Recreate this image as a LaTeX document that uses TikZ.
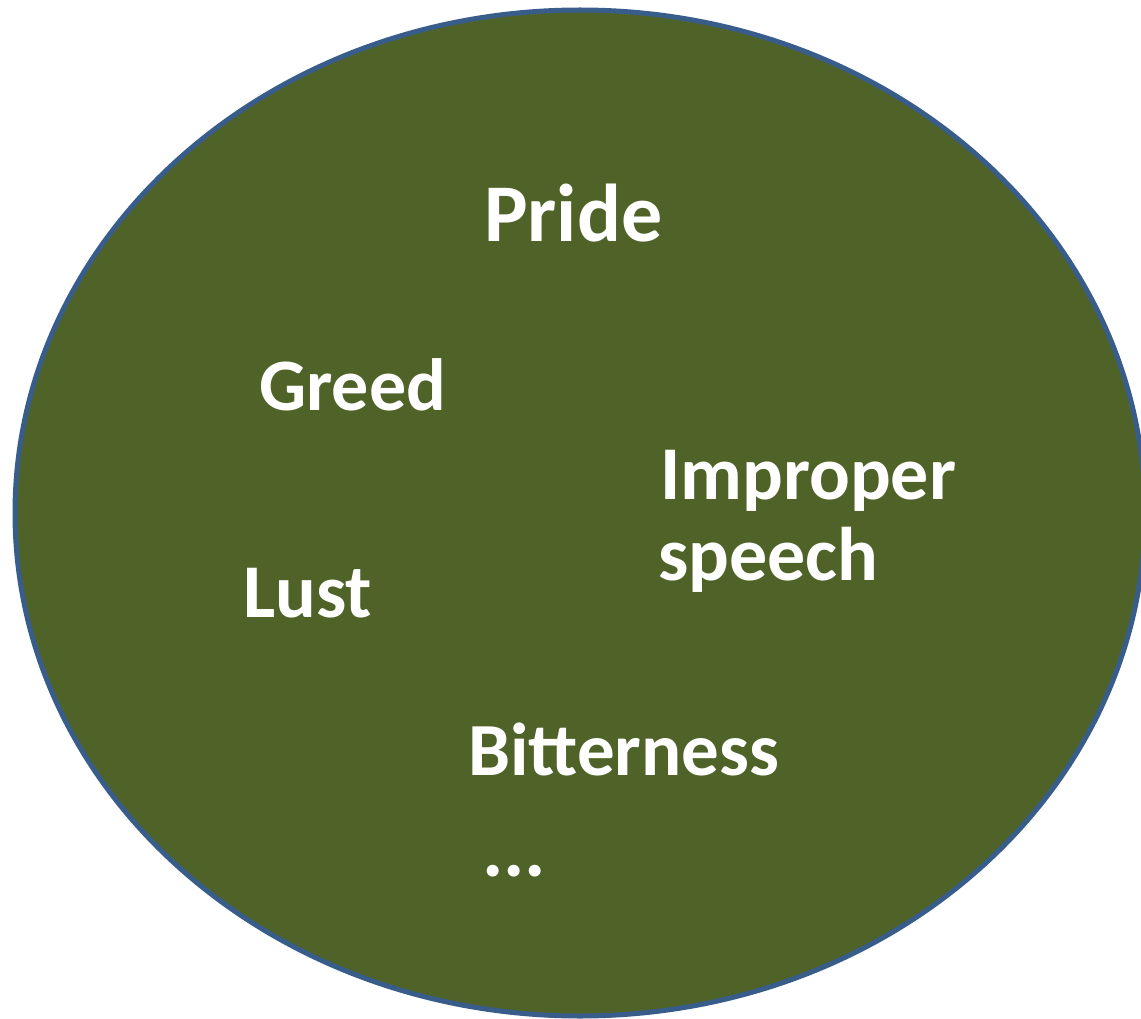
\documentclass[tikz,border=0pt]{standalone}
\usepackage{fontspec}
\setmainfont{Carlito}
\definecolor{olivefill}{HTML}{4F6228}
\definecolor{rimblue}{HTML}{385D8A}
\tikzset{
  word/.style={anchor=base west, inner sep=0pt, text=white, font=\fontsize{76}{91}\selectfont\bfseries},
}
\begin{document}
\begin{tikzpicture}[x=1pt,y=-1pt]
\useasboundingbox (0,0) rectangle (1141,1019);
\clip (0,0) rectangle (1141,1019);
\draw[fill=olivefill, draw=rimblue, line width=5pt] (580,513) ellipse [x radius=565, y radius=503];
\node[word, font=\fontsize{82}{98}\selectfont\bfseries] (pride) at (484,242) {Pride};
\node[word, font=\fontsize{74}{89}\selectfont\bfseries] (greed) at (259,410) {Greed};
\node[word] (improper) at (660,499) {Improper};
\node[word] (speech) at (658,580) {speech};
\node[word] (lust) at (243,617) {Lust};
\node[word, font=\fontsize{75}{90}\selectfont\bfseries] (bitter) at (468,775) {Bitterness};
\node[word, font=\fontsize{80}{96}\selectfont\bfseries] (dots) at (482,876) {...};
\end{tikzpicture}
\end{document}
